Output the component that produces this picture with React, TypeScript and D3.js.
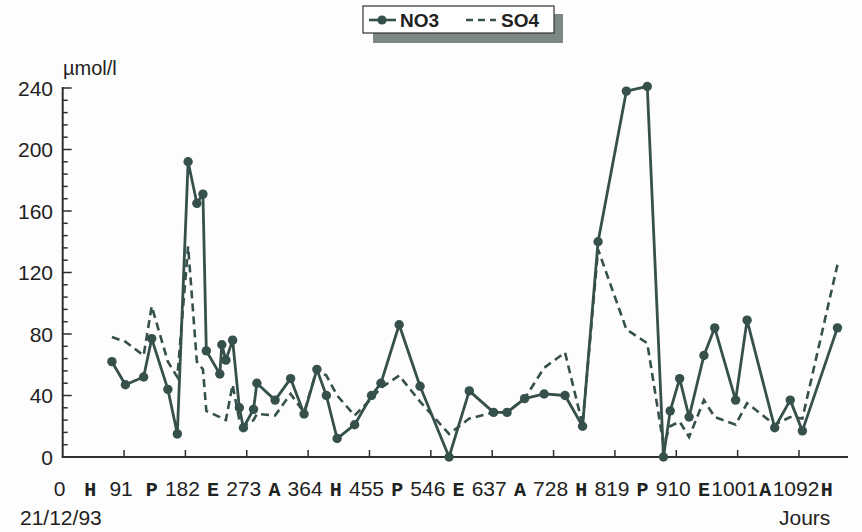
import React from "react";
import * as d3 from "d3";

const days = [73, 93, 120, 132, 156, 170, 186, 199, 208, 213, 233, 236, 242, 252, 262, 268, 283, 288, 315, 338, 358, 377, 391, 407, 433, 458, 472, 499, 530, 573, 603, 639, 659, 685, 714, 745, 771, 794, 836, 867, 891, 901, 915, 929, 951, 967, 998, 1015, 1056, 1079, 1097, 1149];
const no3 = [62, 47, 52, 77, 44, 15, 192, 165, 171, 69, 54, 73, 63, 76, 32, 19, 31, 48, 37, 51, 28, 57, 40, 12, 21, 40, 48, 86, 46, 0, 43, 29, 29, 38, 41, 40, 20, 140, 238, 241, 0, 30, 51, 26, 66, 84, 37, 89, 19, 37, 17, 84];
const so4 = [78, 75, 66, 98, 62, 52, 137, 62, 57, 30, 26, 25, 24, 47, 24, 20, 24, 28, 27, 41, 29, 57, 53, 40, 27, 38, 45, 53, 36, 15, 25, 29, 29, 38, 58, 68, 21, 135, 83, 74, 8, 20, 23, 13, 37, 26, 21, 35, 21, 26, 25, 125];
const xTicks = [0, 91, 182, 273, 364, 455, 546, 637, 728, 819, 910, 1001, 1092];
const seasons = ["H", "P", "E", "A", "H", "P", "E", "A", "H", "P", "E", "A", "H"];
const yTicks = [0, 40, 80, 120, 160, 200, 240];
const seriesNames = ["NO3", "SO4"];
const yUnit = "µmol/l";
const xUnit = "Jours";
const startDate = "21/12/93";

const W = 862;
const H = 532;
const LINE = "#36504b";
const AXIS = "#2a302f";
const TEXT = "#1e2221";

export default function App() {
  const x = d3.scaleLinear().domain([0, 1092]).range([62.7, 799]);
  const y = d3.scaleLinear().domain([0, 240]).range([457, 88]);
  const xEnd = 848;
  const yMinor = d3.range(0, 241, 8);

  const lineGen = d3
    .line<number>()
    .x((_, i) => x(days[i]))
    .y((v) => y(v));

  const font = "'Liberation Sans', Arial, sans-serif";
  const mono = "'Liberation Mono', 'Courier New', monospace";

  return (
    <svg
      width={W}
      height={H}
      style={{ position: "absolute", left: 0, top: 0, background: "#fdfdfd" }}
    >
      <rect x={0} y={0} width={W} height={H} fill="#fdfdfd" />

      {/* legend */}
      <rect x={373} y={14} width={190} height={29} fill="#7b8885" />
      <rect x={363} y={6} width={191} height={27} fill="#ffffff" stroke="#333" strokeWidth={1.2} />
      <line x1={369} x2={396} y1={20} y2={20} stroke={LINE} strokeWidth={2.6} />
      <circle cx={382} cy={20} r={4.6} fill={LINE} />
      <text x={400} y={27} fontFamily={font} fontWeight="bold" fontSize={19} fill={TEXT}>
        {seriesNames[0]}
      </text>
      <line x1={466} x2={496} y1={20} y2={20} stroke={LINE} strokeWidth={2.6} strokeDasharray="7,5" />
      <text x={501} y={27} fontFamily={font} fontWeight="bold" fontSize={19} fill={TEXT}>
        {seriesNames[1]}
      </text>

      {/* y axis */}
      <line x1={x(0)} x2={x(0)} y1={y(240) - 1} y2={y(0)} stroke={AXIS} strokeWidth={2} />
      {yMinor.map((v) => (
        <line
          key={"m" + v}
          x1={x(0)}
          x2={x(0) + (v % 40 === 0 ? 9 : 5)}
          y1={y(v)}
          y2={y(v)}
          stroke={AXIS}
          strokeWidth={1.5}
        />
      ))}
      {yTicks.map((v) => (
        <text
          key={"yl" + v}
          x={53}
          y={y(v) + 7.5}
          textAnchor="end"
          fontFamily={font}
          fontSize={21}
          fill={TEXT}
        >
          {v}
        </text>
      ))}
      <text x={63} y={75} fontFamily={font} fontSize={20} fill={TEXT}>
        {yUnit}
      </text>

      {/* x axis */}
      <line x1={x(0) - 1} x2={xEnd} y1={y(0)} y2={y(0)} stroke={AXIS} strokeWidth={2.2} />
      {xTicks.slice(1).map((d) => (
        <line key={"xt" + d} x1={x(d)} x2={x(d)} y1={y(0)} y2={y(0) - 7} stroke={AXIS} strokeWidth={1.5} />
      ))}
      {xTicks.map((d) => (
        <text
          key={"xl" + d}
          x={x(d) - 3}
          y={496}
          textAnchor="middle"
          fontFamily={font}
          fontSize={21}
          fill={TEXT}
        >
          {d}
        </text>
      ))}
      {xTicks.map((d, i) => (
        <text
          key={"xs" + d}
          x={x(d + 45.5) - 3}
          y={496}
          textAnchor="middle"
          fontFamily={mono}
          fontWeight="bold"
          fontSize={20}
          fill={TEXT}
        >
          {seasons[i]}
        </text>
      ))}
      <text x={20} y={525} fontFamily={font} fontSize={21} fill={TEXT}>
        {startDate}
      </text>
      <text x={779} y={525} fontFamily={font} fontSize={21} fill={TEXT}>
        {xUnit}
      </text>

      {/* series */}
      <path d={lineGen(so4) || ""} fill="none" stroke={LINE} strokeWidth={2.6} strokeDasharray="8,5" />
      <path d={lineGen(no3) || ""} fill="none" stroke={LINE} strokeWidth={2.8} strokeLinejoin="round" />
      {no3.map((v, i) => (
        <circle key={"p" + i} cx={x(days[i])} cy={y(v)} r={4.7} fill={LINE} />
      ))}
    </svg>
  );
}
